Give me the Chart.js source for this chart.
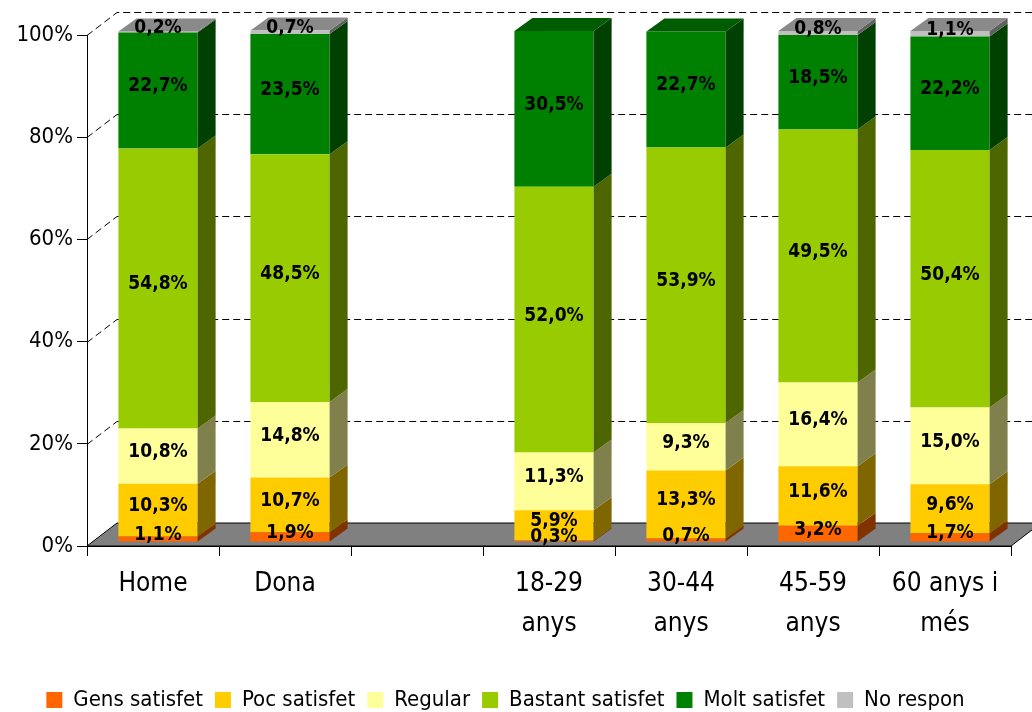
<!DOCTYPE html>
<html>
<head>
<meta charset="utf-8">
<script src="https://cdn.jsdelivr.net/npm/chart.js"></script>
<style>
  body{margin:0;background:#fff;}
</style>
</head>
<body>
<canvas id="myChart" width="1032" height="712"></canvas>
<script>
const ctx = document.getElementById('myChart');

// categories (the empty one is just the gap between sexe and edat)
const categories = ['Home', 'Dona', '', ['18-29', 'anys'], ['30-44', 'anys'], ['45-59', 'anys'], ['60 anys i', 'més']];

// % per category
const gens    = [1.1, 1.9, null, 0.3, 0.7, 3.2, 1.7];
const poc     = [10.3, 10.7, null, 5.9, 13.3, 11.6, 9.6];
const regular = [10.8, 14.8, null, 11.3, 9.3, 16.4, 15.0];
const bastant = [54.8, 48.5, null, 52.0, 53.9, 49.5, 50.4];
const molt    = [22.7, 23.5, null, 30.5, 22.7, 18.5, 22.2];
const noResp  = [0.2, 0.7, null, 0, 0, 0.8, 1.1];

const yTicks = [0, 20, 40, 60, 80, 100];

const seriesNames  = ['Gens satisfet', 'Poc satisfet', 'Regular', 'Bastant satisfet', 'Molt satisfet', 'No respon'];
const seriesData   = [gens, poc, regular, bastant, molt, noResp];
const seriesColors = ['#FF6600', '#FFCC00', '#FFFF99', '#99CC00', '#008000', '#C0C0C0'];

const FONT = '"DejaVu Sans Condensed", "DejaVu Sans", sans-serif';

// 3d look
const DEPTH = {x: 30, y: -23};  // floor / walls
const BAR   = {x: 5,  y: -4};   // bars sit a bit behind the front edge
const SIDE  = {x: 18, y: -13};  // depth of a bar

function shade(hex, f){
  const n = parseInt(hex.slice(1), 16);
  const r = Math.round((n >> 16 & 255) * f), g = Math.round((n >> 8 & 255) * f), b = Math.round((n & 255) * f);
  return `rgb(${r},${g},${b})`;
}

const box3d = {
  id: 'box3d',
  beforeDatasetsDraw(chart){
    const c = chart.ctx, a = chart.chartArea, ys = chart.scales.y;
    c.save();
    // floor
    const y0 = ys.getPixelForValue(0);
    c.beginPath();
    c.moveTo(a.left, y0);
    c.lineTo(a.right, y0);
    c.lineTo(a.right + DEPTH.x, y0 + DEPTH.y);
    c.lineTo(a.left + DEPTH.x, y0 + DEPTH.y);
    c.closePath();
    c.fillStyle = '#808080';
    c.fill();
    c.strokeStyle = '#000';
    c.lineWidth = 1;
    c.stroke();
    // dashed gridlines, left wall then back wall
    c.setLineDash([7, 4]);
    yTicks.forEach(v => {
      if (v === 0) return;
      const py = Math.round(ys.getPixelForValue(v)) + 0.5;
      c.beginPath();
      c.moveTo(a.left, py);
      c.lineTo(a.left + DEPTH.x, py + DEPTH.y);
      c.lineTo(chart.width + 10, py + DEPTH.y);
      c.stroke();
    });
    c.restore();
    // the bars themselves get drawn moved back
    c.save();
    c.translate(BAR.x, BAR.y);
  },
  afterDatasetsDraw(chart){
    const c = chart.ctx;
    const metas = chart.getSortedVisibleDatasetMetas();
    const topIdx = {};
    // side faces
    metas.forEach(m => {
      m.data.forEach((bar, i) => {
        const v = seriesData[m.index][i];
        if (!v) return;
        topIdx[i] = m.index;
        const p = bar.getProps(['x', 'y', 'base', 'width'], true);
        const r = p.x + p.width / 2;
        c.beginPath();
        c.moveTo(r, p.base);
        c.lineTo(r + SIDE.x, p.base + SIDE.y);
        c.lineTo(r + SIDE.x, p.y + SIDE.y);
        c.lineTo(r, p.y);
        c.closePath();
        c.fillStyle = shade(seriesColors[m.index], 0.5);
        c.fill();
      });
    });
    // top face only on the highest piece
    Object.keys(topIdx).forEach(i => {
      const di = topIdx[i];
      const p = chart.getDatasetMeta(di).data[i].getProps(['x', 'y', 'width'], true);
      const l = p.x - p.width / 2, r = p.x + p.width / 2;
      c.beginPath();
      c.moveTo(l, p.y);
      c.lineTo(r, p.y);
      c.lineTo(r + SIDE.x, p.y + SIDE.y);
      c.lineTo(l + SIDE.x, p.y + SIDE.y);
      c.closePath();
      c.fillStyle = shade(seriesColors[di], 0.72);
      c.fill();
    });
    // value labels
    c.font = 'bold 19px ' + FONT;
    c.fillStyle = '#000';
    c.textAlign = 'center';
    c.textBaseline = 'middle';
    metas.forEach(m => {
      m.data.forEach((bar, i) => {
        const v = seriesData[m.index][i];
        if (!v) return;
        const p = bar.getProps(['x', 'y', 'base'], true);
        c.fillText(v.toFixed(1).replace('.', ',') + '%', p.x, (p.y + p.base) / 2 - 4);
      });
    });
    c.restore();
  }
};

Chart.defaults.color = '#000';
Chart.defaults.font.family = FONT;

new Chart(ctx, {
  type: 'bar',
  data: {
    labels: categories,
    datasets: seriesNames.map((name, k) => ({
      label: name,
      data: seriesData[k],
      backgroundColor: seriesColors[k],
      borderWidth: 0,
      categoryPercentage: 1,
      barPercentage: 0.6
    }))
  },
  options: {
    responsive: false,
    animation: false,
    devicePixelRatio: 1,
    layout: {padding: {top: 35, right: 21, left: 0, bottom: -9}},
    plugins: {
      tooltip: {enabled: false},
      legend: {
        position: 'bottom',
        labels: {boxWidth: 16, boxHeight: 16, padding: 12, font: {size: 22}}
      }
    },
    scales: {
      x: {
        stacked: true,
        grid: {drawOnChartArea: false, tickLength: 10, color: '#000'},
        border: {color: '#000'},
        ticks: {font: {size: 26, lineHeight: '40px'}, padding: 8, maxRotation: 0, autoSkip: false},
        afterFit(s){ s.height = 131; }
      },
      y: {
        stacked: true,
        min: 0,
        max: 100,
        grid: {drawOnChartArea: false, tickLength: 10, color: '#000'},
        border: {color: '#000'},
        ticks: {stepSize: 20, font: {size: 22}, padding: 4, callback: v => v + '%'},
        afterFit(s){ s.width = 87; }
      }
    }
  },
  plugins: [box3d]
});
</script>
</body>
</html>
